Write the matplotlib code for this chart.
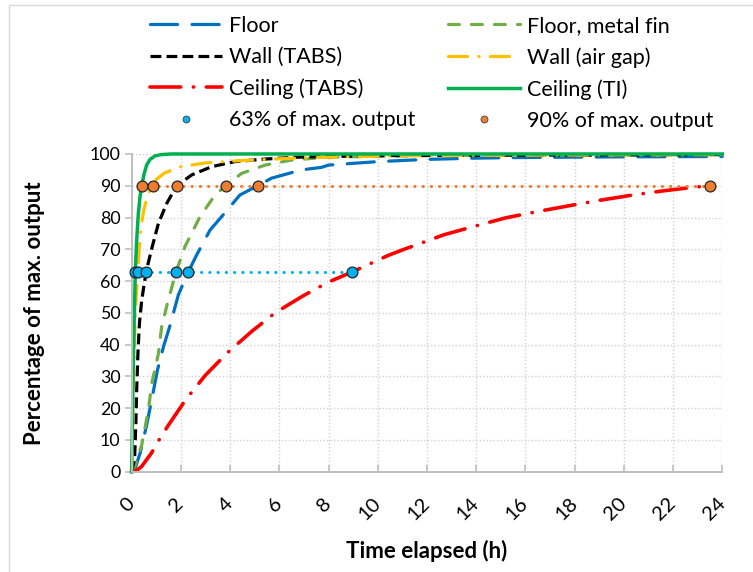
import matplotlib
matplotlib.use("Agg")
import matplotlib.pyplot as plt
from matplotlib.lines import Line2D
from matplotlib.patches import Rectangle

plt.rcParams['font.family'] = ['Lato', 'DejaVu Sans']

# Response curves, time in hours, output in % of max.
floor_t = [0, 0.14, 0.35, 0.61, 0.85, 1.05, 1.3, 1.56, 1.9, 2.31, 2.64, 3.19,
           3.66, 4.4, 5.12, 5.69, 6.91, 7.72, 8, 10, 12, 14, 16, 20, 24]
floor_y = [0, 1, 6, 14.7, 24, 32, 39.5, 46, 55.7, 63, 68.2, 76.1,
           80.3, 87.1, 90, 92.4, 95, 95.8, 96.5, 97.6, 98.3, 98.7, 98.9, 99.1, 99.2]

fin_t = [0, 0.14, 0.41, 0.68, 0.82, 1.09, 1.22, 1.47, 1.81, 2.17, 2.78, 3.39,
         3.82, 4.47, 5.42, 6.5, 8, 12, 24]
fin_y = [0, 2, 8.4, 19.4, 27.8, 37.2, 45.6, 53.5, 63, 70.9, 80.3, 87.1,
         90, 93.9, 96.5, 98.1, 99, 99.5, 99.8]

wall_t = [0, 0.12, 0.17, 0.21, 0.26, 0.32, 0.41, 0.59, 0.82, 1.09, 1.43, 1.83,
          2.44, 3.25, 4.2, 5.42, 6.76, 10, 24]
wall_y = [0, 4, 15, 27, 38, 47, 54, 63, 70.3, 78.2, 84.5, 90,
          93.4, 96, 97.6, 98.4, 99, 99.5, 99.8]

gap_t = [0, 0.04, 0.08, 0.12, 0.17, 0.21, 0.26, 0.32, 0.4, 0.5, 0.6, 0.7,
         0.86, 1.0, 1.33, 2.0, 3.0, 4.2, 6, 8, 11, 24]
gap_y = [0, 12, 28, 42, 53, 58, 63, 72, 78, 82.5, 85.5, 88,
         90, 92, 94, 96, 97.2, 97.8, 98.5, 99, 99.5, 99.8]

tabs_t = [0, 0.2, 0.4, 0.8, 1.15, 1.5, 2.2, 3.0, 3.9, 4.9, 5.8, 6.4, 7.0, 8.0,
          9.0, 10.4, 11.0, 12.7, 14.0, 15.2, 16.5, 17.7, 19.0, 20.3, 21.5,
          22.8, 23.5]
tabs_y = [0, 0.4, 1.6, 5.8, 10.5, 14.7, 22.7, 30.4, 37.5, 44.3, 49.8, 52.7,
          55.5, 59.7, 63, 68, 69.8, 74.6, 77.4, 79.9, 81.9, 83.6, 85.4, 87,
          88.3, 89.5, 90]

ti_t = [0, 0.03, 0.06, 0.09, 0.12, 0.15, 0.2, 0.27, 0.34, 0.41, 0.5, 0.61,
        0.75, 0.95, 1.2, 1.6, 2, 24]
ti_y = [0, 15, 30, 42, 53, 63, 72, 81, 86.5, 90, 93.5, 96.5,
        98.3, 99.4, 99.8, 100, 100, 100]

# Times at which each curve reaches 63% and 90% of its max. output
t63 = [0.14, 0.26, 0.59, 1.81, 2.31, 8.97]
t90 = [0.41, 0.86, 1.83, 3.82, 5.12, 23.5]

x_ticks = list(range(0, 25, 2))
y_ticks = list(range(0, 101, 10))

fig = plt.figure(figsize=(7.53, 5.72), dpi=100)
ax = fig.add_axes([0.1748, 0.1753, 0.9592 - 0.1748, 0.7308 - 0.1753])

# chart frame
fig.patches.append(Rectangle((9 / 753, -0.1), 1.2, 1 - 5 / 572 + 0.1,
                             transform=fig.transFigure, fill=False,
                             edgecolor='#D9D9D9', linewidth=1))

lw = 2.3
ax.plot(floor_t, floor_y, color='#0070C0', lw=lw, ls=(0, (8.5, 4.5)),
        dash_capstyle='round', label='Floor', clip_on=False)
ax.plot(fin_t, fin_y, color='#70AD47', lw=lw, ls=(0, (3.4, 3.8)),
        dash_capstyle='round', label='Floor, metal fin', clip_on=False)
ax.plot(wall_t, wall_y, color='black', lw=lw, ls=(0, (3.4, 1.6)),
        dash_capstyle='butt', label='Wall (TABS)', clip_on=False)
ax.plot(gap_t, gap_y, color='#FFC000', lw=lw, ls=(0, (6, 3.5, 0.1, 3.5)),
        dash_capstyle='round', label='Wall (air gap)', clip_on=False)
ax.plot(tabs_t, tabs_y, color='#FF0000', lw=2.6, ls=(0, (8.5, 3.5, 0.1, 3.5)),
        dash_capstyle='round', label='Ceiling (TABS)', clip_on=False)
ax.plot(ti_t, ti_y, color='#00B050', lw=2.5, ls='-',
        label='Ceiling (TI)', clip_on=False)

ax.plot(t63, [63] * len(t63), color='#00B0F0', lw=2.2, ls=(0, (0.1, 2.6)),
        dash_capstyle='round', marker='o', ms=7.8, mfc='#00B0F0',
        mec='#262626', mew=0.9, clip_on=False, zorder=5)
ax.plot(t90, [90] * len(t90), color='#ED7D31', lw=2.2, ls=(0, (0.1, 2.6)),
        dash_capstyle='round', marker='o', ms=7.8, mfc='#ED7D31',
        mec='#262626', mew=0.9, clip_on=False, zorder=5)

ax.set_xlim(0, 24)
ax.set_ylim(0, 100)
ax.set_xticks(x_ticks)
ax.set_yticks(y_ticks)
ax.set_xticklabels([str(v) for v in x_ticks], rotation=45, ha='right',
                   rotation_mode='anchor', va='center', fontsize=14.5)
ax.tick_params(axis='x', direction='in', length=5, color='#BFBFBF',
               width=1.2, pad=21)
ax.tick_params(axis='y', direction='out', length=5, color='#BFBFBF',
               width=1.2, labelsize=12.8, pad=3)
for side in ('top', 'right'):
    ax.spines[side].set_visible(False)
for side in ('left', 'bottom'):
    ax.spines[side].set_color('#BFBFBF')
    ax.spines[side].set_linewidth(1.4)

ax.grid(True, color='#D0D0D0', ls=(0, (1, 1.5)), lw=1)
ax.set_axisbelow(True)

ax.set_xlabel('Time elapsed (h)', fontsize=16, fontweight='bold',
              labelpad=12)
ax.set_ylabel('Percentage of max. output', fontsize=16, fontweight='bold',
              labelpad=32)

handles, labels = ax.get_legend_handles_labels()
dot63 = Line2D([], [], ls='none', marker='o', ms=5, mfc='#00B0F0',
               mec='#404040', mew=0.6)
dot90 = Line2D([], [], ls='none', marker='o', ms=5, mfc='#ED7D31',
               mec='#404040', mew=0.6)
order = [0, 2, 4, 1, 3, 5]
leg_handles = [handles[i] for i in order[:3]] + [dot63] + \
    [handles[i] for i in order[3:]] + [dot90]
leg_labels = [labels[i] for i in order[:3]] + ['63% of max. output'] + \
    [labels[i] for i in order[3:]] + ['90% of max. output']
fig.legend(leg_handles, leg_labels, ncol=2, loc='upper left',
           bbox_to_anchor=(150 / 753, 1 - 16 / 572), frameon=False,
           fontsize=15.5, handlelength=3.35, handletextpad=0.3,
           labelspacing=0.52, columnspacing=1.55, borderaxespad=0,
           borderpad=0)

fig.savefig('out.png', dpi=100)
